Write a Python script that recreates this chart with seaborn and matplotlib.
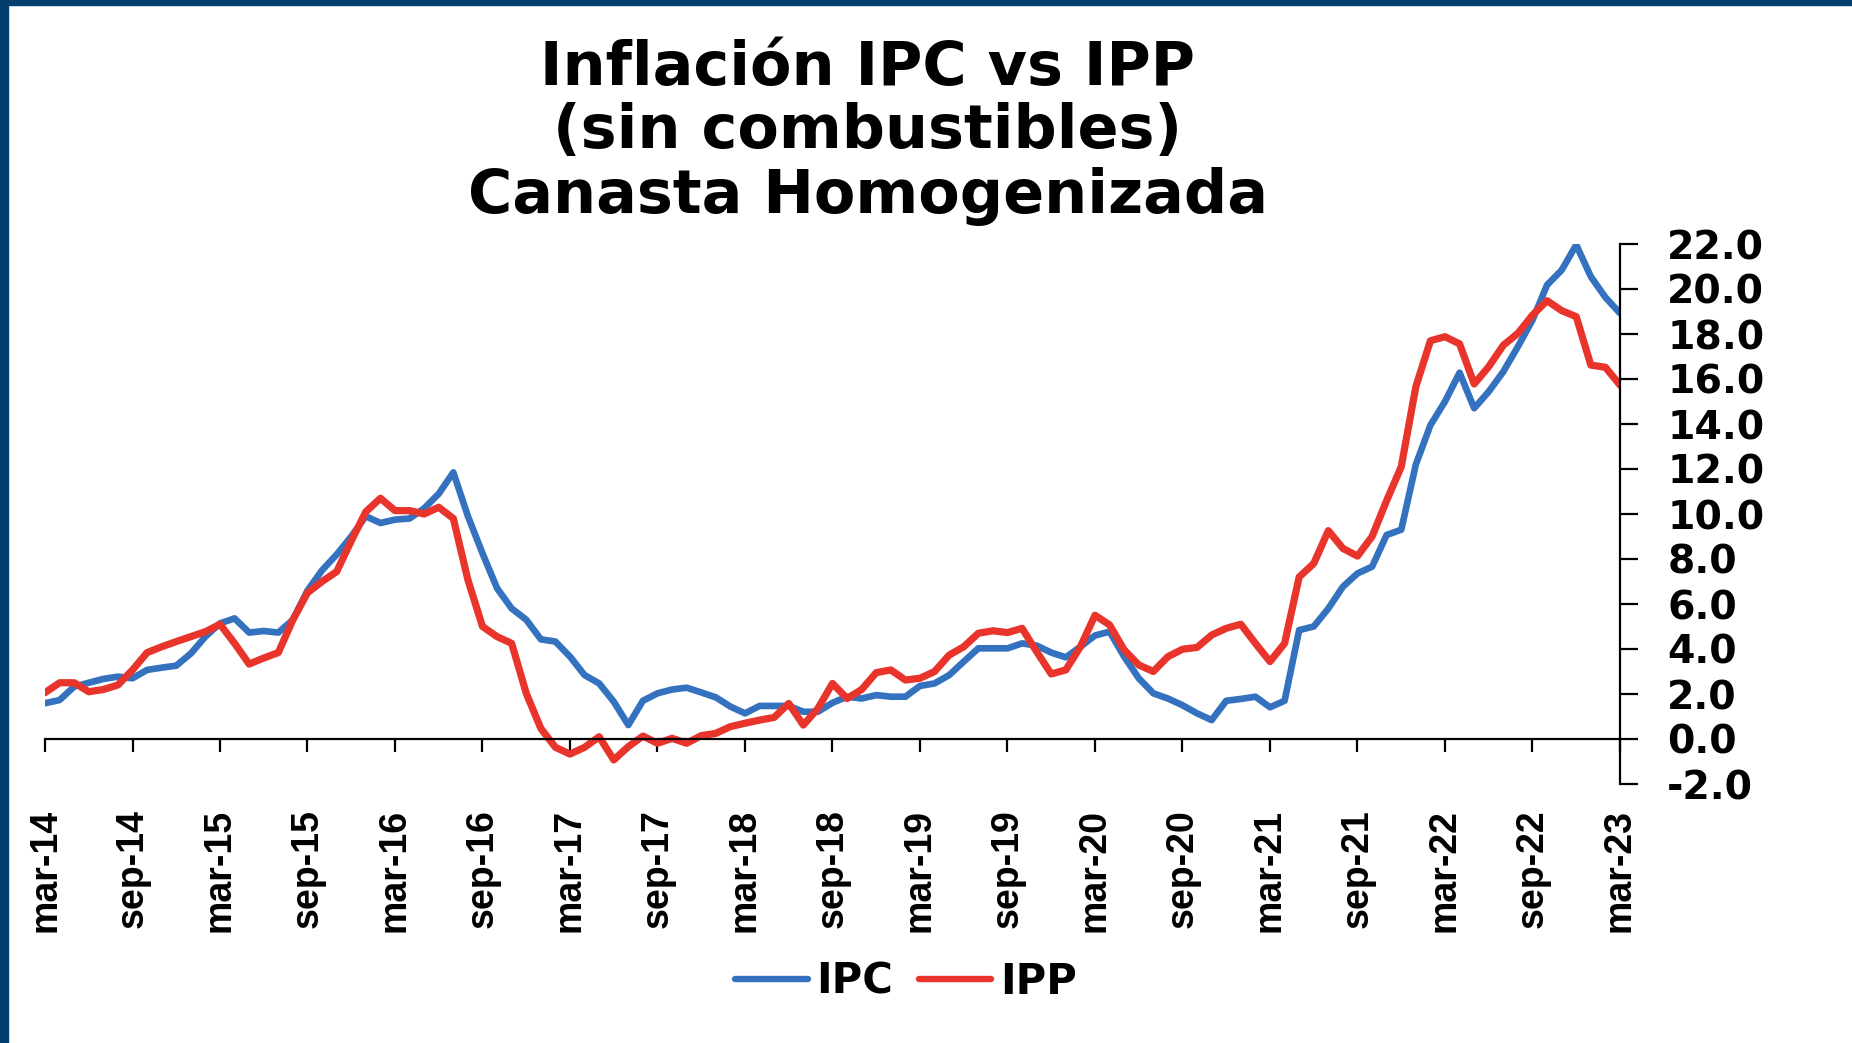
import numpy as np
import pandas as pd
import matplotlib
matplotlib.use("Agg")
import matplotlib.pyplot as plt
from matplotlib.lines import Line2D
from matplotlib.patches import Rectangle
import seaborn as sns

# ---------------- data ----------------
ipc = [1.59, 1.73, 2.33, 2.50, 2.67, 2.77, 2.70, 3.07, 3.17, 3.26, 3.80, 4.55,
       5.14, 5.36, 4.73, 4.80, 4.73, 5.30, 6.60, 7.50, 8.20, 9.00, 9.90, 9.60,
       9.75, 9.80, 10.25, 10.90, 11.85, 9.90, 8.25, 6.70, 5.80, 5.30, 4.43, 4.33,
       3.66, 2.84, 2.47, 1.66, 0.62, 1.70, 2.03, 2.20, 2.28, 2.07, 1.85, 1.44,
       1.14, 1.47, 1.47, 1.47, 1.21, 1.21, 1.61, 1.88, 1.80, 1.95, 1.88, 1.88,
       2.36, 2.47, 2.84, 3.44, 4.03, 4.03, 4.03, 4.25, 4.15, 3.84, 3.63, 4.10,
       4.60, 4.77, 3.66, 2.70, 2.03, 1.80, 1.50, 1.14, 0.84, 1.70, 1.78, 1.88,
       1.41, 1.70, 4.84, 5.00, 5.80, 6.77, 7.36, 7.66, 9.07, 9.30, 12.20, 13.95,
       15.00, 16.28, 14.70, 15.44, 16.33, 17.44, 18.62, 20.18, 20.84, 21.96, 20.55, 19.63,
       18.92]
ipp = [2.06, 2.50, 2.50, 2.10, 2.20, 2.40, 3.07, 3.84, 4.10, 4.33, 4.55, 4.77,
       5.10, 4.25, 3.33, 3.60, 3.84, 5.30, 6.50, 7.00, 7.44, 8.80, 10.10, 10.70,
       10.15, 10.15, 10.00, 10.30, 9.80, 7.07, 5.00, 4.55, 4.25, 2.03, 0.47, -0.37,
       -0.67, -0.37, 0.10, -0.93, -0.34, 0.13, -0.19, 0.03, -0.19, 0.15, 0.25, 0.55,
       0.70, 0.84, 0.96, 1.58, 0.62, 1.36, 2.47, 1.80, 2.20, 2.95, 3.07, 2.62,
       2.70, 3.00, 3.73, 4.10, 4.70, 4.81, 4.73, 4.92, 3.88, 2.89, 3.07, 4.10,
       5.50, 5.07, 3.96, 3.29, 3.00, 3.66, 3.99, 4.07, 4.62, 4.92, 5.10, 4.25,
       3.44, 4.25, 7.20, 7.80, 9.26, 8.47, 8.13, 9.00, 10.60, 12.10, 15.66, 17.70,
       17.88, 17.56, 15.78, 16.55, 17.50, 18.03, 18.84, 19.48, 19.04, 18.77, 16.62, 16.52,
       15.73]
tick_labels = ["mar-14", "sep-14", "mar-15", "sep-15", "mar-16", "sep-16",
               "mar-17", "sep-17", "mar-18", "sep-18", "mar-19", "sep-19",
               "mar-20", "sep-20", "mar-21", "sep-21", "mar-22", "sep-22", "mar-23"]
y_ticks = [-2, 0, 2, 4, 6, 8, 10, 12, 14, 16, 18, 20, 22]
series_names = ["IPC", "IPP"]
title_lines = ["Inflación IPC vs IPP", "(sin combustibles)", "Canasta Homogenizada"]

# ---------------- style ----------------
sns.set_style("white")
plt.rcParams["font.family"] = ["DejaVu Sans"]
plt.rcParams["font.weight"] = "bold"
plt.rcParams["text.color"] = "black"
plt.rcParams["xtick.color"] = "black"
plt.rcParams["ytick.color"] = "black"
plt.rcParams["xtick.labelcolor"] = "black"
plt.rcParams["ytick.labelcolor"] = "black"

BLUE = "#3472BF"
RED = "#E8342A"
NAVY = "#023F6E"

df = pd.DataFrame({
    "mes": np.arange(len(ipc)),
    "IPC": ipc,
    "IPP": ipp,
})
long = df.melt(id_vars="mes", var_name="serie", value_name="valor")

W, H = 1852, 1043
fig = plt.figure(figsize=(W / 100, H / 100), dpi=100)
fig.patch.set_facecolor("white")

ax = fig.add_axes([45 / W, 1 - 784 / H, (1620 - 45) / W, (784 - 244) / H])
ax.set_facecolor("white")

sns.lineplot(data=long[long.serie == "IPC"], x="mes", y="valor", color=BLUE,
             linewidth=4.8, ax=ax, legend=False)
sns.lineplot(data=long[long.serie == "IPP"], x="mes", y="valor", color=RED,
             linewidth=5.2, ax=ax, legend=False)

ax.set_xlim(0, len(ipc) - 1)
ax.set_ylim(-2, 22)
ax.set_xlabel("")
ax.set_ylabel("")

# spines
ax.spines["left"].set_visible(False)
ax.spines["top"].set_visible(False)
ax.spines["right"].set_visible(True)
ax.spines["bottom"].set_visible(True)
ax.spines["bottom"].set_position(("data", 0))
for s in ("right", "bottom"):
    ax.spines[s].set_color("black")
    ax.spines[s].set_linewidth(1.6)

# x ticks
xt = np.arange(0, len(ipc), 6)
ax.set_xticks(xt)
ax.set_xticklabels(tick_labels, rotation=90, fontsize=27, fontweight="bold",
                   family=["Liberation Sans", "DejaVu Sans"], color="black")
ax.tick_params(axis="x", direction="out", length=9.4, width=1.6, pad=41,
               color="black", bottom=True)

# y ticks on the right
ax.yaxis.tick_right()
ax.set_yticks(y_ticks)
ax.set_yticklabels([f"{v:.1f}" for v in y_ticks], fontsize=28.4, fontweight="bold",
                   color="black")
ax.tick_params(axis="y", direction="out", length=13, width=1.6, pad=21,
               color="black", right=True, left=False)
for lab in ax.get_yticklabels():
    lab.set_horizontalalignment("left")

ax.grid(False)

# title
for txt, yb in zip(title_lines, [85, 148, 213]):
    fig.text(868 / W, 1 - yb / H, txt, ha="center", va="baseline",
             fontsize=43.5, fontweight="bold", color="black")

# legend
handles = [Line2D([], [], color=BLUE, lw=4.6), Line2D([], [], color=RED, lw=4.6)]
fig.legend(handles, series_names, loc="center", bbox_to_anchor=(906 / W, 1 - 982 / H),
           ncol=2, frameon=False, prop={"size": 30, "weight": "bold"},
           handlelength=1.75, handletextpad=0.2, columnspacing=0.6,
           labelcolor="black")

# frame bands
fig.patches.append(Rectangle((0, 0), 8 / W, 1, transform=fig.transFigure,
                             color=NAVY, zorder=10))
fig.patches.append(Rectangle((0, 1 - 5 / H), 1, 5 / H, transform=fig.transFigure,
                             color=NAVY, zorder=10))

fig.savefig("out.png", dpi=100, facecolor="white")
